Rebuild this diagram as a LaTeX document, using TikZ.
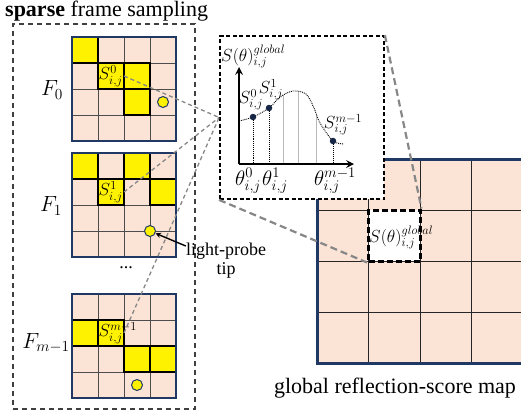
\RequirePackage{fix-cm}
\documentclass[tikz,border=0pt]{standalone}
\usepackage{fontspec}
\setmainfont{Liberation Serif}
\usetikzlibrary{positioning}

\definecolor{peach}{RGB}{251,228,214}
\definecolor{navy}{RGB}{31,56,100}
\definecolor{zoomgray}{RGB}{135,135,135}

\tikzset{
  cellbg/.style={fill=peach},
  gridln/.style={draw=black!70, line width=0.8pt},
  mapln/.style={draw=black!85, line width=0.9pt},
  ycell/.style={fill=yellow, draw=black, line width=1.1pt},
  navyframe/.style={draw=navy, line width=2.6pt},
  probe/.style={circle, fill=yellow, draw=navy, line width=1pt, minimum size=11pt, inner sep=0pt},
  zoomln/.style={draw=zoomgray, dash pattern=on 4pt off 3pt, line width=1.3pt},
  zoomlnbig/.style={draw=zoomgray, dash pattern=on 7pt off 4pt, line width=2.2pt},
  framebox/.style={draw=black!75, dash pattern=on 5pt off 4pt, line width=1.1pt, minimum width=182pt, minimum height=385pt, inner sep=0pt},
  insetbox/.style={draw=black, fill=white, dash pattern=on 4pt off 2.5pt, line width=1.8pt, minimum width=164pt, minimum height=163pt, inner sep=0pt},
  hcellbox/.style={draw=black, fill=white, dash pattern=on 6pt off 3pt, line width=3pt, minimum width=51.5pt, minimum height=51pt, inner sep=0pt},
  sdot/.style={circle, fill=navy!70!black, inner sep=0pt, minimum size=6.5pt},
  axis/.style={line width=2.4pt},
  vdots/.style={densely dotted, line width=0.9pt},
  celltxt/.style={font=\fontsize{17.5}{17.5}\selectfont, inner sep=0pt},
  thtxt/.style={font=\fontsize{21}{21}\selectfont, inner sep=0pt},
  flab/.style={font=\fontsize{22}{22}\selectfont, inner sep=0pt},
  txt/.style={font=\fontsize{18}{20}\selectfont, inner sep=0pt},
  bigtxt/.style={font=\fontsize{22}{24}\selectfont, inner sep=0pt},
}

\begin{document}
\begin{tikzpicture}[x=1pt, y=-1pt, >=stealth]
\useasboundingbox (0,0) rectangle (521,416);

% title
\node[bigtxt, anchor=west] (title) at (5,11) {\textbf{sparse} frame sampling};

% dashed box round the frames
\node[framebox] (frames) at (104,216.5) {};

% frames F_0, F_1, F_{m-1}
\foreach \fy/\cells/\px/\py/\idx/\nm in {37/{0/0,1/1,2/1,2/2}/91/65/0/f0, 153/{0/0,2/0,1/1,3/1}/78/78/1/f1, 294/{0/1,1/1,2/2,3/2}/65/91/m-1/fm}{
  \begin{scope}[shift={(72,\fy)}]
    \fill[cellbg] (0,0) rectangle (104,104);
    \foreach \k in {26,52,78}{
      \draw[gridln] (\k,0) -- (\k,104);
      \draw[gridln] (0,\k) -- (104,\k);
    }
    \foreach \c/\r in \cells
      \draw[ycell] (26*\c,26*\r) rectangle ++(26,26);
    \draw[navyframe] (0,0) rectangle (104,104);
    \node[probe] (lp\nm) at (\px,\py) {};
    \node[celltxt, anchor=west] (s\nm) at (26.5,39) {$S^{\idx}_{i,j}$};
    \coordinate (c\nm) at (52,39);
  \end{scope}
}
\node[flab] (lf0) at (52,90) {$F_0$};
\node[flab] (lf1) at (51,206) {$F_1$};
\node[flab] (lfm) at (46,343) {$F_{m-1}$};
\node[txt] (dots) at (126,268) {...};

% light-probe tip
\node[txt] (tip1) at (226,251) {light-probe};
\node[txt, below=3pt of tip1] (tip2) {tip};
\draw[->, line width=1.4pt] ([yshift=5pt]tip1.west) -- (lpf1);

% global map
\begin{scope}
  \clip (300,150) rectangle (521,375);
  \fill[cellbg] (317,159) rectangle (540,363);
  \foreach \k in {1,2,3}{
    \draw[mapln] (317+51.5*\k,159) -- (317+51.5*\k,363);
    \draw[mapln] (317,159+51*\k) -- (540,159+51*\k);
  }
  \draw[navyframe, line width=3pt] (540,159) -- (317,159) -- (317,363) -- (540,363);
\end{scope}
\node[hcellbox] (hcell) at (394.25,235.5) {};
\node[celltxt, anchor=west] (hlab) at (369,237) {$S(\theta)^{global}_{i,j}$};
\node[bigtxt] (cap) at (395,388) {global reflection-score map};

% inset: score curve
\node[insetbox] (inset) at (302,117.5) {};
\node[celltxt, anchor=west] (ylab) at (221,56) {$S(\theta)^{global}_{i,j}$};
\coordinate (O) at (239,164);
\coordinate (ytop) at (239,67);
\coordinate (xend) at (354,164);
\foreach \gx/\gy in {283/95,298/91.5,316/114}
  \draw[gray!55, line width=0.6pt] (\gx,\gy) -- (\gx,164);
\draw[vdots] plot[smooth] coordinates {(239,121) (253,117) (269,108) (280,97) (293,91) (306,94) (314,108) (320,123) (333,141) (344,144)};
\node[sdot] (p0) at (253,117) {};
\node[sdot] (p1) at (269,108) {};
\node[sdot] (pm) at (333,141) {};
\foreach \p in {p0,p1,pm}
  \draw[vdots] (\p) -- (\p |- O);
\draw[axis, ->] (O) -- (ytop);
\draw[axis, ->] (O) -- (xend);
\node[celltxt, above=3pt of p0, xshift=-2pt] (l0) {$S^0_{i,j}$};
\node[celltxt, above=4pt of p1, xshift=2pt] (l1) {$S^1_{i,j}$};
\node[celltxt, above=2pt of pm, xshift=10pt] (lm) {$S^{m-1}_{i,j}$};
\node[thtxt, anchor=north] (t0) at (248,168) {$\theta^0_{i,j}$};
\node[thtxt, anchor=north] (t1) at (275,168) {$\theta^1_{i,j}$};
\node[thtxt, anchor=north] (tm) at (335,168) {$\theta^{m-1}_{i,j}$};

% zoom lines
\foreach \nm in {f0,f1,fm}
  \draw[zoomln] (c\nm) -- (inset.west);
\draw[zoomlnbig] (inset.north east) -- (hcell.north east);
\draw[zoomlnbig] (inset.south west) -- (hcell.south west);
\end{tikzpicture}
\end{document}
